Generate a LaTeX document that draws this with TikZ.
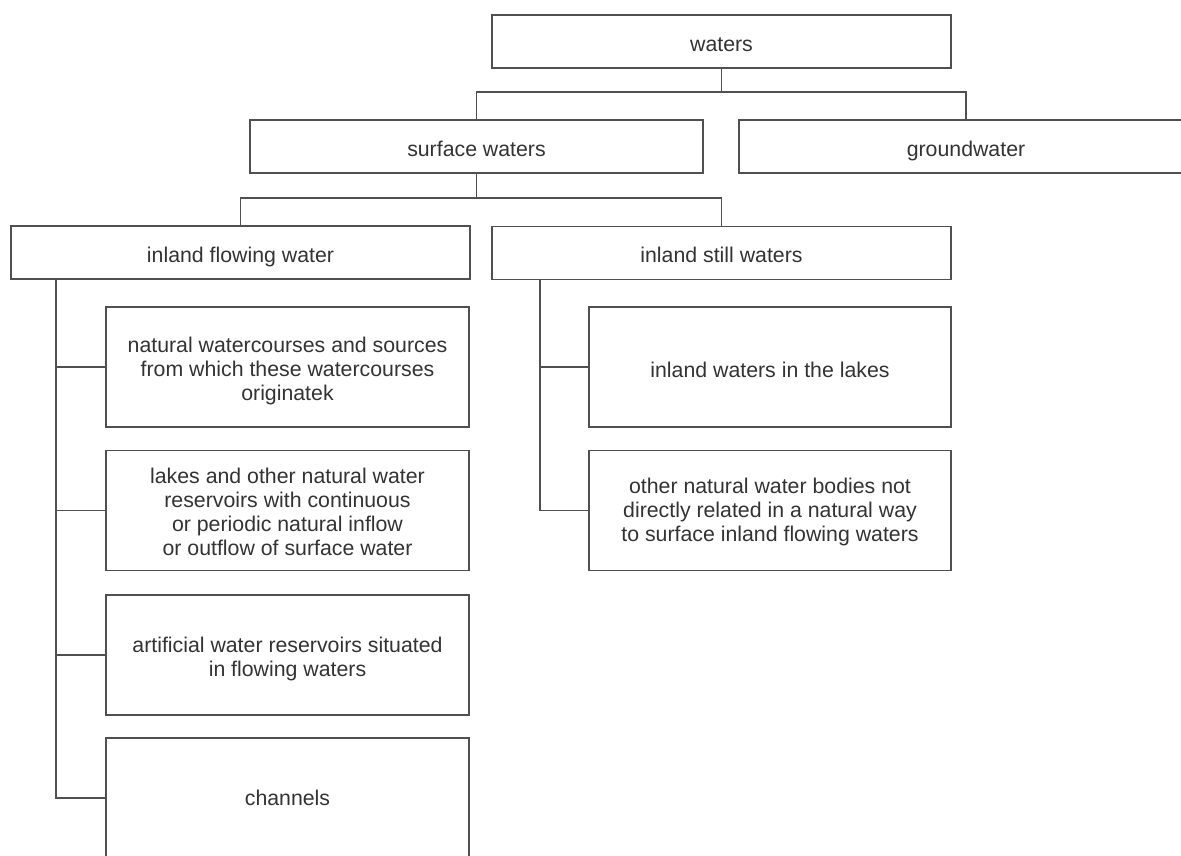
\documentclass[tikz,border=0pt]{standalone}
\usepackage{fontspec}
\setmainfont{Liberation Sans}
\definecolor{linec}{HTML}{505050}
\definecolor{textc}{HTML}{333333}
\begin{document}
\begin{tikzpicture}[x=1pt,y=-1pt,
  txt/.style={inner sep=0pt, align=center, text=textc, font=\fontsize{21.3}{24}\selectfont},
  base/.style={draw=linec, line width=1.3pt, rectangle},
  box/.style={base, txt, minimum height=53pt, text height=21pt, text depth=2pt},
  tall/.style={base, minimum height=120pt},
  conn/.style={draw=linec, line width=1.3pt}]
\clip (0,0) rectangle (1181,855);
\useasboundingbox (0,0) rectangle (1181,855);
\fill[white] (0,0) rectangle (1181,855);
\node[box, minimum width=459pt] (waters) at (721.5,41.5) {waters};
\node[box, minimum width=453pt] (surface) at (476.5,146.5) {surface waters};
\node[box, minimum width=454pt] (ground) at (966,146.5) {groundwater};
\node[box, minimum width=459pt] (flowing) at (240.5,252.5) {inland flowing water};
\node[box, minimum width=459pt] (still) at (721.5,253) {inland still waters};
\node[tall, minimum width=363pt, label={[txt,yshift=-3.5pt]center:{natural watercourses and sources\\from which these watercourses\\originatek}}] (nat) at (287.5,367) {};
\node[tall, minimum width=363pt, label={[txt,yshift=-1pt]center:{lakes and other natural water\\reservoirs with continuous\\or periodic natural inflow\\or outflow of surface water}}] (lakes) at (287.5,510.5) {};
\node[tall, minimum width=363pt, label={[txt,yshift=-4pt]center:{artificial water reservoirs situated\\in flowing waters}}] (art) at (287.5,655) {};
\node[tall, minimum width=363pt, label={[txt]center:{channels}}] (chan) at (287.5,798) {};
\node[tall, minimum width=362pt, label={[txt,yshift=-3pt]center:{inland waters in the lakes}}] (inlakes) at (770,367) {};
\node[tall, minimum width=362pt, label={[txt,yshift=-1.5pt]center:{other natural water bodies not\\directly related in a natural way\\to surface inland flowing waters}}] (other) at (770,510.5) {};
\coordinate (j1) at (721.5,92);
\coordinate (j2) at (476.5,198);
\coordinate (t1) at (56,0);
\coordinate (t2) at (540,0);
\draw[conn] (waters.south) -- (waters.south |- j1);
\draw[conn] (surface.north) |- (ground.north |- j1) -- (ground.north);
\draw[conn] (surface.south) -- (surface.south |- j2);
\draw[conn] (flowing.north) |- (still.north |- j2) -- (still.north);
\draw[conn] (flowing.south -| t1) |- (chan.west);
\foreach \n in {nat,lakes,art} \draw[conn] (\n.west) -- (\n.west -| t1);
\draw[conn] (still.south -| t2) |- (other.west);
\draw[conn] (inlakes.west) -- (inlakes.west -| t2);
\end{tikzpicture}
\end{document}
